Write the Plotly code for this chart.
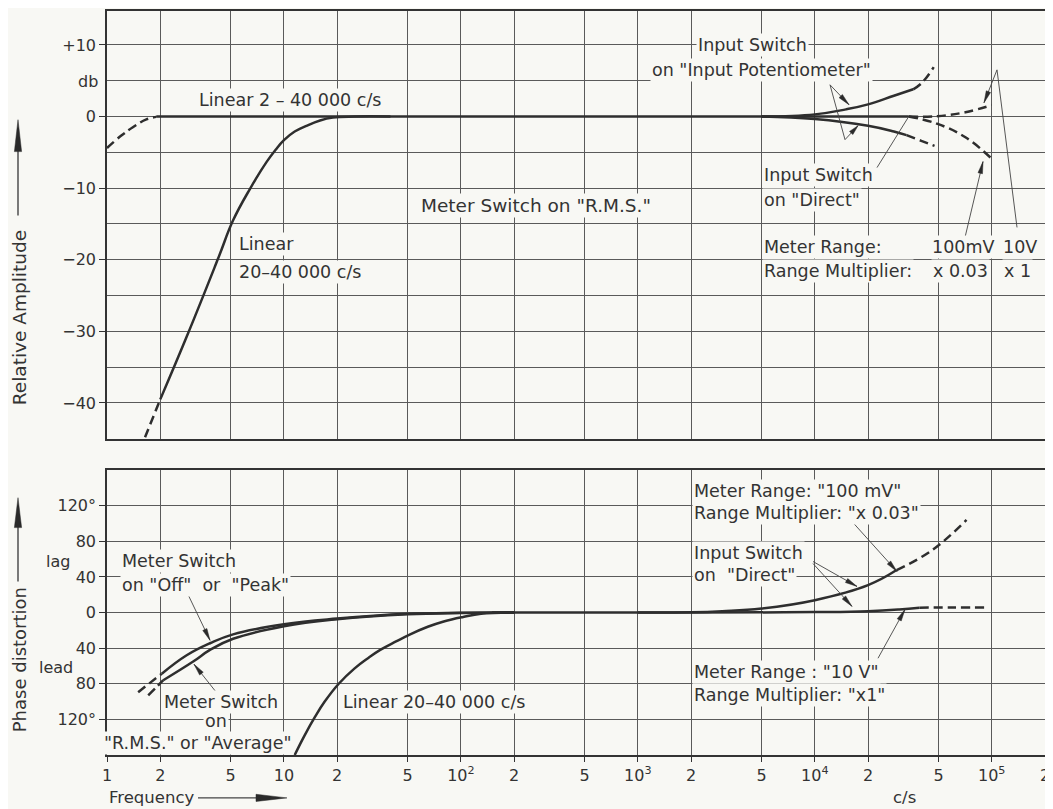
import numpy as np
import plotly.graph_objects as go

# ---------------- data ----------------
x_tick_vals = [1, 2, 5, 10, 20, 50, 100, 200, 500, 1000, 2000, 5000,
               10000, 20000, 50000, 100000, 200000]
x_tick_text = ["1", "2", "5", "10", "2", "5", "10<sup>2</sup>", "2", "5",
               "10<sup>3</sup>", "2", "5", "10<sup>4</sup>", "2", "5",
               "10<sup>5</sup>", "2"]

amp_tick_vals = [10, 0, -10, -20, -30, -40]
amp_tick_text = ["+10", "0", "\u221210", "\u221220", "\u221230", "\u221240"]
phase_tick_vals = [120, 80, 40, 0, -40, -80, -120]
phase_tick_text = ["120\u00b0", "80", "40", "0", "40", "80", "120\u00b0"]

# --- Relative amplitude (dB) ---
lin2_dash_f = [1.0, 1.2, 1.4, 1.67, 1.9]
lin2_dash_db = [-4.4, -2.7, -1.5, -0.4, -0.05]
lin2_solid_f = [1.9, 10, 100, 1000, 5000, 34000]
lin2_solid_db = [0, 0, 0, 0, 0, 0]

lin20_dash_f = [1.64, 2.0]
lin20_dash_db = [-44.8, -39.5]
lin20_solid_f = [2.0, 2.88, 4.25, 5.16, 6.43, 8.0, 9.0, 10.0, 11.5, 13.4, 16.0, 18.9, 25.0, 40.0]
lin20_solid_db = [-39.5, -30.2, -19.8, -14.5, -10.1, -6.3, -4.6, -3.3, -2.1, -1.3, -0.55, -0.15, 0.0, 0.0]

pot_up_solid_f = [5000, 10000, 15000, 20000, 28000, 36000]
pot_up_solid_db = [0, 0.3, 1.0, 1.7, 2.9, 3.8]
pot_up_dash_f = [36000, 40300, 47000]
pot_up_dash_db = [3.8, 4.7, 6.9]

pot_lo_solid_f = [5000, 10000, 20000, 28000, 33000]
pot_lo_solid_db = [0, -0.35, -1.3, -2.1, -2.6]
pot_lo_dash_f = [33000, 40000, 47500]
pot_lo_dash_db = [-2.6, -3.4, -4.1]

dir100_dash_f = [34000, 49000, 71000, 100000]
dir100_dash_db = [0, -1.0, -2.9, -5.9]
dir10_dash_f = [34000, 49000, 71000, 100000]
dir10_dash_db = [0, 0.05, 0.6, 1.6]

# --- Phase distortion (degrees, lag positive, lead negative) ---
off_dash_f = [1.5, 1.75, 2.04]
off_dash_deg = [-89.5, -79, -68.7]
off_solid_f = [2.04, 2.82, 3.82, 5.16, 10, 20, 50, 100, 200]
off_solid_deg = [-68.7, -48, -34.5, -24.5, -13.2, -6.8, -1.5, -0.3, 0]

rms_dash_f = [1.71, 1.9, 2.08]
rms_dash_deg = [-93, -84, -76]
rms_solid_f = [2.08, 3.07, 3.82, 5.16, 10, 20, 50, 100, 200]
rms_solid_deg = [-76, -55, -42, -29.5, -15.4, -7.5, -2, -0.5, 0]

lin20p_f = [11.5, 13, 15, 17, 20.4, 25, 30, 35, 43, 51, 65, 80, 103, 130, 200]
lin20p_deg = [-160, -139, -117, -100, -80, -63, -51, -42, -32.5, -25, -16, -10, -5, -1.5, 0]

p100_solid_f = [1000, 2000, 3000, 5000, 10000, 20000, 29000]
p100_solid_deg = [0, 0.3, 1.5, 4.5, 13.9, 30.8, 47.7]
p100_dash_f = [29000, 46000, 72000]
p100_dash_deg = [47.7, 70, 104]

p10_solid_f = [150, 2000, 10000, 20000, 30000, 39000]
p10_solid_deg = [0, 0, 0.5, 1.5, 3.5, 5.5]
p10_dash_f = [39000, 60000, 95000]
p10_dash_deg = [5.5, 5.6, 5.6]

# ---------------- layout geometry ----------------
# The page body adds an 8 px offset; all positions below are measured in
# page pixels and converted into the figure's paper coordinates.
OFF = 8
W, H = 1045, 801
L, R, T, B = 99, 8, 1, 54
PW, PH = W - L - R, H - T - B
XMAX = np.log10(200000)
BG = "#f8f8f4"
INK = "#2e2e2e"
GRID = "#5a5a5a"
FONT = "DejaVu Sans"

TOP_PX = OFF + T          # page y of top border of the upper panel
PLOT_BOTTOM_PX = OFF + H - B  # page y of the bottom border (755)


def paper_x(px):
    return (px - OFF - L) / PW


def paper_y(py):
    return (PLOT_BOTTOM_PX - py) / PH


top_dom = [paper_y(438), 1.0]
bot_dom = [0.0, paper_y(469.3)]

# amplitude scale: 0 dB at page y 114.8, 7.18 px per dB
amp_top = (114.8 - TOP_PX) / 7.18
amp_bot = -(438 - 114.8) / 7.18

fig = go.Figure()

curves = [
    (lin2_dash_f, lin2_dash_db, "y", True),
    (lin2_solid_f, lin2_solid_db, "y", False),
    (lin20_dash_f, lin20_dash_db, "y", True),
    (lin20_solid_f, lin20_solid_db, "y", False),
    (pot_up_solid_f, pot_up_solid_db, "y", False),
    (pot_up_dash_f, pot_up_dash_db, "y", True),
    (pot_lo_solid_f, pot_lo_solid_db, "y", False),
    (pot_lo_dash_f, pot_lo_dash_db, "y", True),
    (dir100_dash_f, dir100_dash_db, "y", True),
    (dir10_dash_f, dir10_dash_db, "y", True),
    (off_dash_f, off_dash_deg, "y2", True),
    (off_solid_f, off_solid_deg, "y2", False),
    (rms_dash_f, rms_dash_deg, "y2", True),
    (rms_solid_f, rms_solid_deg, "y2", False),
    (lin20p_f, lin20p_deg, "y2", False),
    (p100_solid_f, p100_solid_deg, "y2", False),
    (p100_dash_f, p100_dash_deg, "y2", True),
    (p10_solid_f, p10_solid_deg, "y2", False),
    (p10_dash_f, p10_dash_deg, "y2", True),
]
for f, v, yax, dashed in curves:
    fig.add_trace(go.Scatter(
        x=f, y=v, mode="lines",
        xaxis="x" if yax == "y" else "x2", yaxis=yax,
        line=dict(color=INK, width=2.5, shape="spline", smoothing=1.2,
                  dash="9px,5px" if dashed else "solid"),
        hoverinfo="skip", showlegend=False, cliponaxis=True))

# ---------------- text annotations ----------------
ann = []
TXT = 17.5


def text(x, y, s, anchor="left", size=TXT, angle=0, bg=True):
    ann.append(dict(x=paper_x(x), y=paper_y(y), xref="paper", yref="paper",
                    text=s, showarrow=False, xanchor=anchor, yanchor="middle",
                    textangle=angle, font=dict(size=size, color="#333", family=FONT),
                    bgcolor=BG if bg else "rgba(0,0,0,0)", borderpad=1))


# top panel
text(197, 98, "Linear 2 \u2013 40 000 c/s")
text(237, 243, "Linear")
text(237, 271, "20\u201340 000 c/s")
text(419, 204, 'Meter Switch on "R.M.S."', size=18.5)
text(752, 43, "Input Switch", "center")
text(650, 68, 'on "Input Potentiometer"')
text(762, 173, "Input Switch")
text(762, 199, 'on "Direct"')
text(762, 246, "Meter Range:")
text(762, 270, "Range Multiplier:")
text(963, 246, "100mV", "center")
text(960, 270, "x 0.03", "center")
text(1020, 246, "10V", "center")
text(1017, 270, "x 1", "center")
text(100, 80, "db", "right", 16, bg=False)

# bottom panel
text(120, 560, "Meter Switch")
text(120, 585, 'on "Off"  or  "Peak"')
text(221, 702, "Meter Switch", "center")
text(216, 721, "on", "center")
text(198, 743, '"R.M.S." or "Average"', "center")
text(341, 702, "Linear 20\u201340 000 c/s")
text(692, 490, 'Meter Range: "100 mV"')
text(692, 512, 'Range Multiplier: "x 0.03"')
text(692, 552, "Input Switch")
text(692, 575, 'on  "Direct"')
text(692, 672, 'Meter Range : "10 V"')
text(692, 695, 'Range Multiplier: "x1"')
text(72, 561, "lag", "right", 16, bg=False)
text(75, 667, "lead", "right", 16, bg=False)

# axis titles
text(19, 317, "Relative Amplitude", "center", 18.5, -90, bg=False)
text(19, 660, "Phase distortion", "center", 18, -90, bg=False)
text(107, 798, "Frequency", "left", 16.5, bg=False)
text(904, 798, "c/s", "center", 16.5, bg=False)

# ---------------- leader lines and arrowheads ----------------
shapes = []


def seg(p0, p1, w=0.9):
    shapes.append(dict(type="line", xref="paper", yref="paper",
                       x0=paper_x(p0[0]), y0=paper_y(p0[1]),
                       x1=paper_x(p1[0]), y1=paper_y(p1[1]),
                       line=dict(color="#444", width=w)))


def head(tail, tip, length=12, half=2.3, color="#2a2a2a"):
    d = np.array(tip, float) - np.array(tail, float)
    d /= np.linalg.norm(d)
    n = np.array([-d[1], d[0]])
    base = np.array(tip, float) - d * length
    a = base + n * half
    b = base - n * half
    path = "M {},{} L {},{} L {},{} Z".format(
        paper_x(tip[0]), paper_y(tip[1]), paper_x(a[0]), paper_y(a[1]),
        paper_x(b[0]), paper_y(b[1]))
    shapes.append(dict(type="path", xref="paper", yref="paper", path=path,
                       fillcolor=color, line=dict(color=color, width=0.5)))


def arrow(tail, tip, **kw):
    seg(tail, tip)
    head(tail, tip, **kw)


# top panel leaders
arrow((830, 83), (849, 103))
seg((830, 83), (845, 138))
arrow((845, 138), (858, 124), length=10)
seg((877, 166), (908, 116))
arrow((965, 236), (983, 160))
seg((1017, 226), (997, 68))
arrow((997, 68), (984, 101))

# bottom panel leaders
arrow((187, 592), (210, 640))
arrow((217, 693), (194, 664))
arrow((853, 522), (897, 571))
arrow((813, 561), (857, 586))
arrow((813, 563), (852, 606))
arrow((878, 658), (905, 609))

# axis-title arrows
seg((18, 214), (18, 148), w=1.4)
head((18, 214), (18, 118), length=32, half=3.6)
seg((18, 581), (18, 525), w=1.4)
head((18, 581), (18, 497), length=30, half=3.6)
seg((198, 798), (260, 798), w=1.4)
head((198, 798), (287, 798), length=31, half=3.6)

axis_common = dict(showline=True, mirror=True, linecolor="#333", linewidth=1.6,
                   gridcolor=GRID, gridwidth=0.9, zeroline=False,
                   tickfont=dict(size=16, color="#333", family=FONT))

fig.update_layout(
    width=W, height=H,
    margin=dict(l=L, r=R, t=T, b=B, pad=0),
    paper_bgcolor=BG, plot_bgcolor=BG,
    font=dict(family=FONT, color="#333"),
    showlegend=False,
    xaxis=dict(type="log", range=[0, XMAX], domain=[0, 1], anchor="y",
               tickvals=x_tick_vals, showticklabels=False, ticks="",
               **axis_common),
    xaxis2=dict(type="log", range=[0, XMAX], domain=[0, 1], anchor="y2",
                tickvals=x_tick_vals, ticktext=x_tick_text, ticks="outside",
                ticklen=5, tickcolor="#333", tickwidth=1.1, **axis_common),
    yaxis=dict(range=[amp_bot, amp_top], domain=top_dom, anchor="x",
               tickvals=amp_tick_vals, ticktext=amp_tick_text,
               ticks="outside", ticklen=6, tickcolor="#333", tickwidth=1.1,
               minor=dict(dtick=5, showgrid=True, gridcolor=GRID, gridwidth=0.9,
                          ticks=""),
               **axis_common),
    yaxis2=dict(range=[-160, 160], domain=bot_dom, anchor="x2",
                tickvals=phase_tick_vals, ticktext=phase_tick_text,
                ticks="outside", ticklen=6, tickcolor="#333", tickwidth=1.1,
                **axis_common),
    annotations=ann,
    shapes=shapes,
)

fig.write_html("out.html")
